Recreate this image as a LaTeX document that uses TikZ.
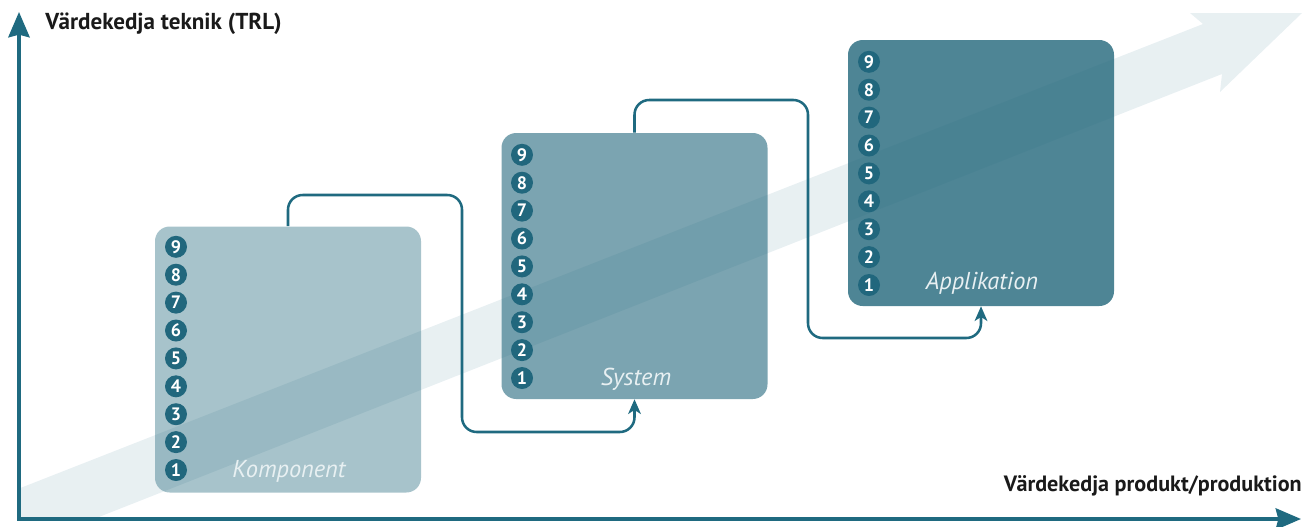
\documentclass[tikz,border=0pt]{standalone}
\usepackage{fontspec}
\setmainfont{PT Sans}
\usetikzlibrary{arrows.meta}
\definecolor{tealdk}{HTML}{1F6A80}
\definecolor{numc}{HTML}{21677D}
\definecolor{boxa}{HTML}{A7C3CB}
\definecolor{boxb}{HTML}{7BA4B1}
\definecolor{boxc}{HTML}{4E8595}
\definecolor{labc}{HTML}{E8F0F2}
\definecolor{txt}{HTML}{1A1A1A}
\tikzset{axtip/.tip={Stealth[length=19pt,width=16pt,inset=2pt]}}
\begin{document}
\begin{tikzpicture}[x=0.75pt,y=-0.75pt,
  box/.style={rounded corners=11pt, minimum width=199.5pt, minimum height=199.5pt, inner sep=0pt, draw=none},
  num/.style={circle, fill=numc, text=white, font=\bfseries\fontsize{13.5}{13.5}\selectfont, inner sep=0pt, minimum size=16.5pt},
  lab/.style={font=\itshape\fontsize{18.3}{19}\selectfont, text=labc, anchor=base, inner sep=0pt},
  conn/.style={draw=tealdk, line width=1.9pt, rounded corners=11pt, -{Stealth[length=11pt,width=9.5pt,inset=3pt]}},
  axis/.style={draw=tealdk, line width=2.5pt},
  axlab/.style={font=\bfseries\fontsize{16}{16}\selectfont, text=txt, inner sep=0pt}]
\useasboundingbox (0,0) rectangle (1306,526);
% boxes
\node[box, fill=boxa] (k) at (288,359.5) {};
\node[box, fill=boxb] (s) at (634.5,266) {};
\node[box, fill=boxc] (a) at (981,173) {};
% light arrow band
\begin{scope}
  \clip (19,0) rectangle (1306,519);
  \fill[tealdk, fill opacity=0.1] (0,496) -- (1203,24) -- (1190,13) -- (1302,13) -- (1220,92) -- (1222,74) -- (0,556) -- cycle;
\end{scope}
% TRL numbers
\foreach \b/\bx/\by in {k/176/470, s/522/378, a/869/285}{
  \foreach \n in {1,...,9}{
    \node[num] (\b-\n) at (\bx,{\by-(\n-1)*27.9}) {\n};
  }
}
% box labels
\node[lab] (kl) at (289,477) {Komponent};
\node[lab] (sl) at (636,385) {System};
\node[lab] (al) at (982,289) {Applikation};
% connectors
\coordinate (k1) at (462,195);
\coordinate (k2) at (462,432);
\coordinate (s1) at (808,100);
\coordinate (s2) at (808,338);
\draw[conn] (k.north) |- (k1) -- (k2) -| (s.south);
\draw[conn] (s.north) |- (s1) -- (s2) -| (a.south);
% axes
\coordinate (o) at (19,519);
\coordinate (yt) at (19,12);
\coordinate (xt) at (1301,519);
\draw[axis, {axtip}-{axtip}] (yt) -- (o) -- (xt);
\node[axlab, anchor=base west, font=\bfseries\fontsize{17.3}{17}\selectfont] (ylab) at (45,29) {Värdekedja teknik (TRL)};
\node[axlab, anchor=base east, font=\bfseries\fontsize{16.6}{17}\selectfont] (xlab) at (1302,491) {Värdekedja produkt/produktion};
\end{tikzpicture}
\end{document}
